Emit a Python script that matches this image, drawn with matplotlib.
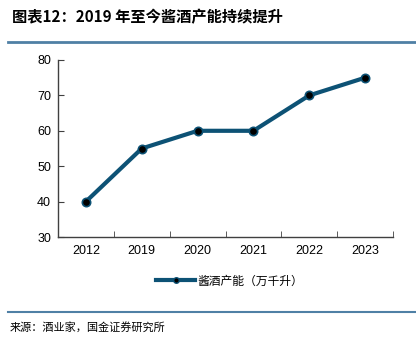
import matplotlib
matplotlib.use("Agg")
import matplotlib.pyplot as plt
from matplotlib.lines import Line2D

years = ["2012", "2019", "2020", "2021", "2022", "2023"]
capacity = [40, 55, 60, 60, 70, 75]
yticks = [30, 40, 50, 60, 70, 80]

line_color = "#0d5275"
cjk = ["Noto Sans CJK SC", "DejaVu Sans"]

fig = plt.figure(figsize=(4.16, 3.38), dpi=100)
ax = fig.add_axes([58 / 416, 1 - 237 / 338, 335 / 416, 177 / 338])

x = list(range(len(years)))
ax.plot(x, capacity, color=line_color, linewidth=3, marker="o", markersize=6,
        markerfacecolor="black", markeredgecolor=line_color, markeredgewidth=1.2,
        label="酱酒产能（万千升）", zorder=3)

ax.set_xlim(-0.5, len(years) - 0.5)
ax.set_ylim(30, 80)
ax.set_yticks(yticks)
ax.set_xticks(x)
ax.set_xticklabels(years)
ax.set_xticks([i + 0.5 for i in range(-1, len(years))], minor=True)
ax.tick_params(axis="x", which="major", length=0, pad=6)
ax.tick_params(axis="x", which="minor", direction="in", length=4, color="#404040")
ax.tick_params(axis="y", direction="in", length=4, color="#404040", pad=5)
for lab in ax.get_xticklabels() + ax.get_yticklabels():
    lab.set_fontfamily("Liberation Sans")
    lab.set_fontsize(9)
for s in ["top", "right"]:
    ax.spines[s].set_visible(False)
for s in ["left", "bottom"]:
    ax.spines[s].set_color("#404040")
    ax.spines[s].set_linewidth(1)

handle = Line2D([0], [0], color=line_color, linewidth=3, marker="o", markersize=4,
                markerfacecolor="black", markeredgecolor=line_color)
fig.legend([handle], ["酱酒产能（万千升）"], loc="center", bbox_to_anchor=(230 / 416, 1 - 281 / 338),
           frameon=False, prop={"family": cjk, "size": 8.5}, handlelength=3.3, handletextpad=0.2)

fig.text(12 / 416, 1 - 17 / 338, "图表12：2019 年至今酱酒产能持续提升", fontsize=11,
         fontweight="bold", family=cjk, va="center", ha="left", style="italic")
fig.add_artist(Line2D([8 / 416, 1.0], [1 - 42 / 338] * 2, color="#4f80a5", linewidth=2))
fig.add_artist(Line2D([8 / 416, 1.0], [1 - 312 / 338] * 2, color="#4f80a5", linewidth=1.5))
fig.text(10 / 416, 1 - 327 / 338, "来源：酒业家，国金证券研究所", fontsize=8, family=cjk,
         va="center", ha="left")

fig.savefig("out.png", dpi=100)
